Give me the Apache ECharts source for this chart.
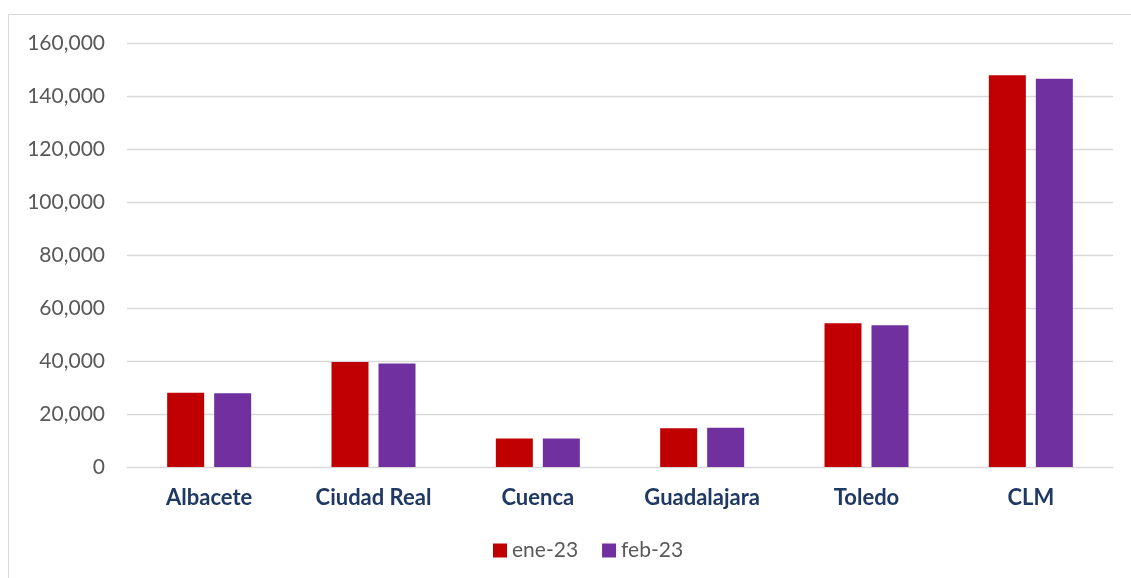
<!DOCTYPE html>
<html>
<head>
    <meta charset="utf-8">
    <style>
        body { margin: 0; background: #fff; }
    </style>
</head>
<body>

<div id="main" style="width: 1131px;height:578px;"></div>
<script src="https://cdn.jsdelivr.net/npm/echarts@6/dist/echarts.min.js"></script>
<script type="text/javascript">
    // provincias de Castilla-La Mancha
    var categories = ['Albacete', 'Ciudad Real', 'Cuenca', 'Guadalajara', 'Toledo', 'CLM'];
    var ene23 = [28000, 39600, 10800, 14600, 54200, 147800];
    var feb23 = [27800, 39100, 10800, 14800, 53500, 146500];
    var seriesNames = ['ene-23', 'feb-23'];

    var option = {
        animation: false,
        graphic: [{
            type: 'rect',
            shape: { x: 8.5, y: 14.5, width: 1140, height: 580 },
            style: { fill: 'none', stroke: '#d9d9d9', lineWidth: 1 }
        }],
        legend: {
            data: seriesNames,
            bottom: 12,
            left: 488,
            itemWidth: 14,
            itemHeight: 14,
            itemGap: 24,
            icon: 'rect',
            textStyle: { color: '#595959', fontSize: 21, fontFamily: 'Lato' }
        },
        grid: {
            left: 127,
            right: 18,
            top: 43,
            bottom: 111
        },
        xAxis: {
            type: 'category',
            data: categories,
            axisLine: { lineStyle: { color: '#d9d9d9' } },
            axisTick: { show: false },
            axisLabel: {
                color: '#1f3864',
                fontWeight: 'bold',
                fontSize: 22,
                fontFamily: 'Lato',
                margin: 20
            }
        },
        yAxis: {
            type: 'value',
            min: 0,
            max: 160000,
            interval: 20000,
            axisLine: { show: false },
            axisTick: { show: false },
            splitLine: { lineStyle: { color: '#d9d9d9', width: 1.3 } },
            axisLabel: {
                color: '#595959',
                fontSize: 21,
                fontFamily: 'Lato',
                margin: 22,
                formatter: function (v) { return v.toLocaleString('en-US'); }
            }
        },
        series: [
            {
                name: seriesNames[0],
                type: 'bar',
                data: ene23,
                barWidth: 37,
                barGap: '27%',
                itemStyle: { color: '#c00000' }
            },
            {
                name: seriesNames[1],
                type: 'bar',
                data: feb23,
                barWidth: 37,
                itemStyle: { color: '#7030a0' }
            }
        ]
    };
    var myChart = echarts.init(document.getElementById('main'));
    myChart.setOption(option);
</script>
</body>
</html>
